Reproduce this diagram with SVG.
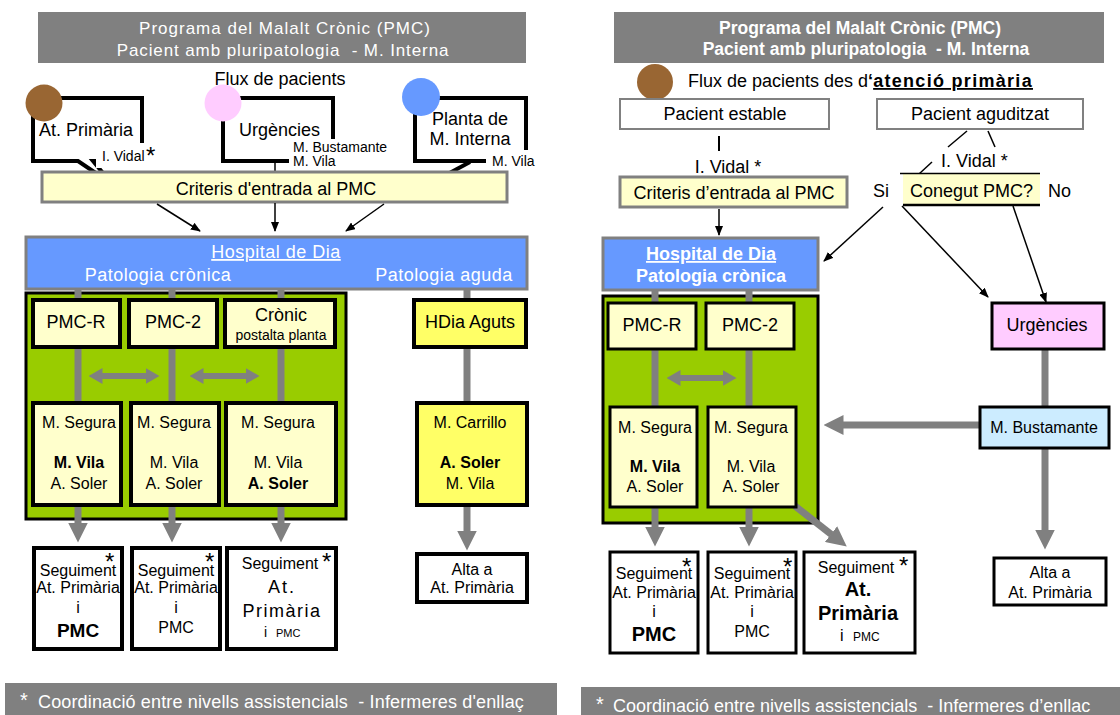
<svg xmlns="http://www.w3.org/2000/svg" width="1120" height="715" viewBox="0 0 1120 715">
<defs>
<style>
text{font-family:"Liberation Sans",Arial,sans-serif;fill:#000;font-size:16px}
.w{fill:#fff}
.c{text-anchor:middle}
.b{font-weight:bold}
.f18{font-size:18px}
.f14{font-size:14px}
.ls{letter-spacing:0.5px}
.ast{font-size:24px}
.bar{fill:#808080}
.call{fill:#fff;stroke:#000;stroke-width:4}
.cy{fill:#FFFFCC;stroke:#808080;stroke-width:3}
.hd{fill:#6699FF;stroke:#808080;stroke-width:3}
.grn{fill:#99CC00;stroke:#000;stroke-width:3}
.bx{fill:#FFFFCC;stroke:#000;stroke-width:4}
.bx3{fill:#FFFFCC;stroke:#000;stroke-width:3}
.yl{fill:#FFFF66;stroke:#000;stroke-width:4}
.wb{fill:#fff;stroke:#000;stroke-width:4}
.wb3{fill:#fff;stroke:#000;stroke-width:3}
.gb{fill:#fff;stroke:#808080;stroke-width:2}
.g{stroke:#808080;stroke-width:7;fill:none}
.k{stroke:#000;stroke-width:1.5;fill:none}
.ka{stroke:#000;stroke-width:1.5;fill:none;marker-end:url(#ah)}
.ga{stroke:#808080;stroke-width:7;fill:none;marker-end:url(#gh)}
.gd{stroke:#808080;stroke-width:6;fill:none;marker-start:url(#gh2);marker-end:url(#gh2)}
</style>
<marker id="ah" markerUnits="userSpaceOnUse" markerWidth="10" markerHeight="8" viewBox="0 0 10 8" refX="9" refY="4" orient="auto"><path d="M0,0 L10,4 L0,8 Z" fill="#000"/></marker>
<marker id="gh" markerUnits="userSpaceOnUse" markerWidth="20" markerHeight="20" viewBox="0 0 20 20" refX="0.5" refY="10" orient="auto"><path d="M0,0 L20,10 L0,20 Z" fill="#808080"/></marker>
<marker id="gh2" markerUnits="userSpaceOnUse" markerWidth="14" markerHeight="16" viewBox="0 0 14 16" refX="0.5" refY="8" orient="auto-start-reverse"><path d="M0,0 L14,8 L0,16 Z" fill="#808080"/></marker>
</defs>
<rect x="0" y="0" width="1120" height="715" fill="#fff"/>

<!-- LEFT PANEL -->
<g id="title-left">
<rect x="38" y="12" width="488" height="51" class="bar"/>
<text x="285" y="34" class="w c" style="font-size:17px;letter-spacing:1px">Programa del Malalt Crònic (PMC)</text>
<text x="283" y="56" class="w c" style="font-size:17px;letter-spacing:0.9px">Pacient amb pluripatologia &#160;- M. Interna</text>
</g>
<text id="flux-left" x="280" y="85" class="c f18">Flux de pacients</text>

<g id="hospital-left">
<rect x="26" y="237" width="501" height="52" class="hd"/>
<text x="276" y="258" class="w c f18 ls" style="text-decoration:underline">Hospital de Dia</text>
<text x="158" y="281" class="w c f18 ls">Patologia crònica</text>
<text x="444" y="281" class="w c f18 ls">Patologia aguda</text>
</g>
<g id="cronica-left">
<rect x="26" y="293" width="320" height="226" class="grn"/>
</g>

<g id="at-primaria-left">
<path class="call" d="M33,98 H142 V161 H93 L112,184 L78,161 H33 Z"/>
<rect x="96" y="143" width="68" height="25" fill="#fff"/>
<circle cx="44" cy="103" r="18.5" fill="#996633"/>
<text x="39" y="136" class="f18">At. Primària</text>
<text x="102" y="161" class="f14">I. Vidal</text>
<text x="146" y="164" class="ast">*</text>
</g>
<g id="urgencies-left">
<path class="call" d="M223,98 H333 V161 H223 Z"/>
<line x1="275" y1="161" x2="275" y2="173" class="k"/>
<rect x="289" y="139" width="103" height="32" fill="#fff"/>
<circle cx="223" cy="103" r="18.5" fill="#FFCCFF"/>
<text x="239" y="136" class="f18">Urgències</text>
<text x="293" y="152" class="f14">M. Bustamante</text>
<text x="293" y="166" class="f14">M. Vila</text>
</g>
<g id="planta-left">
<path class="call" d="M415,98 H526 V161 H415 Z"/>
<line x1="470" y1="162" x2="444" y2="176" stroke="#000" stroke-width="4"/>
<rect x="486" y="150" width="54" height="21" fill="#fff"/>
<circle cx="421" cy="97" r="19" fill="#6699FF"/>
<text x="470" y="125" class="c f18">Planta de</text>
<text x="470" y="145" class="c f18">M. Interna</text>
<text x="492" y="166" class="f14">M. Vila</text>
</g>
<g id="criteris-left">
<rect x="42" y="172" width="465" height="30" class="cy"/>
<text x="276" y="195" class="c f18">Criteris d'entrada al PMC</text>
</g>

<!-- RIGHT PANEL containers -->
<g id="title-right">
<rect x="614" y="12" width="490" height="51" class="bar"/>
<text x="860" y="34" class="w c b" style="font-size:17.5px">Programa del Malalt Crònic (PMC)</text>
<text x="866" y="55" class="w c b" style="font-size:17.5px">Pacient amb pluripatologia &#160;- M. Interna</text>
</g>
<g id="flux-right">
<circle cx="655" cy="82" r="18" fill="#996633"/>
<text x="688" y="87" class="f18">Flux de pacients des d<tspan class="b">‘</tspan><tspan class="b" style="text-decoration:underline;letter-spacing:1.3px">atenció primària</tspan></text>
</g>
<g id="hospital-right">
<rect x="603" y="238" width="215" height="52" class="hd"/>
<text x="711" y="260" class="w c b f18" style="text-decoration:underline">Hospital de Dia</text>
<text x="711" y="282" class="w c b f18">Patologia crònica</text>
</g>
<g id="cronica-right">
<rect x="603" y="296" width="215" height="227" class="grn"/>
</g>

<!-- CONNECTORS -->
<g id="connectors">
<line x1="157" y1="204" x2="200" y2="231" class="ka"/>
<line x1="275" y1="203" x2="275" y2="231" class="ka"/>
<line x1="384" y1="204" x2="346" y2="231" class="ka"/>
<line x1="78" y1="289" x2="78" y2="302" class="g"/>
<line x1="172" y1="289" x2="172" y2="302" class="g"/>
<line x1="281" y1="289" x2="281" y2="302" class="g"/>
<line x1="467" y1="289" x2="467" y2="302" class="g"/>
<line x1="78" y1="345" x2="78" y2="405" class="g"/>
<line x1="172" y1="345" x2="172" y2="405" class="g"/>
<line x1="281" y1="345" x2="281" y2="405" class="g"/>
<line x1="467" y1="345" x2="467" y2="405" class="g"/>
<line x1="102" y1="376" x2="146" y2="376" class="gd"/>
<line x1="203" y1="376" x2="246" y2="376" class="gd"/>
<line x1="78" y1="503" x2="78" y2="523" class="ga"/>
<line x1="172" y1="503" x2="172" y2="523" class="ga"/>
<line x1="281" y1="503" x2="281" y2="523" class="ga"/>
<line x1="467" y1="503" x2="467" y2="531" class="ga"/>

<line x1="719" y1="136" x2="719" y2="151" stroke="#000" stroke-width="2"/>
<line x1="719" y1="209" x2="719" y2="235" class="ka"/>
<line x1="967" y1="131" x2="948" y2="147" class="k"/>
<line x1="988" y1="131" x2="995" y2="147" class="k"/>
<line x1="932" y1="162" x2="919" y2="174" class="k"/>
<line x1="883" y1="207" x2="824" y2="261" class="ka"/>
<line x1="902" y1="206" x2="988" y2="297" class="ka"/>
<line x1="1013" y1="206" x2="1046" y2="302" class="ka"/>
<line x1="655" y1="289" x2="655" y2="305" class="g"/>
<line x1="749" y1="289" x2="749" y2="305" class="g"/>
<line x1="655" y1="347" x2="655" y2="409" class="g"/>
<line x1="749" y1="347" x2="749" y2="409" class="g"/>
<line x1="680" y1="378" x2="723" y2="378" class="gd"/>
<line x1="655" y1="505" x2="655" y2="527" class="ga"/>
<line x1="749" y1="505" x2="749" y2="527" class="ga"/>
<line x1="795" y1="506" x2="831.4" y2="534.4" class="ga"/>
<line x1="1045" y1="347" x2="1045" y2="409" class="g"/>
<line x1="980" y1="425" x2="843" y2="425" class="ga"/>
<line x1="1045" y1="446" x2="1045" y2="530" class="ga"/>
</g>

<!-- LEFT nodes -->
<g id="pmc-r-left">
<rect x="33" y="300" width="87" height="47" class="bx"/>
<text x="76" y="328" class="c f18">PMC-R</text>
</g>
<g id="pmc-2-left">
<rect x="129" y="300" width="88" height="47" class="bx"/>
<text x="173" y="328" class="c f18">PMC-2</text>
</g>
<g id="cronic-left">
<rect x="225" y="300" width="110" height="47" class="bx"/>
<text x="281" y="321" class="c f18">Crònic</text>
<text x="281" y="340" class="c f14">postalta planta</text>
</g>
<g id="hdia-aguts-left">
<rect x="414" y="300" width="112" height="47" class="yl"/>
<text x="470" y="328" class="c f18">HDia Aguts</text>
</g>
<g id="equip-1-left">
<rect x="33" y="403" width="88" height="102" class="bx"/>
<text x="79" y="428" class="c">M. Segura</text>
<text x="79" y="468" class="c b">M. Vila</text>
<text x="79" y="489" class="c">A. Soler</text>
</g>
<g id="equip-2-left">
<rect x="131" y="403" width="88" height="102" class="bx"/>
<text x="174" y="428" class="c">M. Segura</text>
<text x="174" y="468" class="c">M. Vila</text>
<text x="174" y="489" class="c">A. Soler</text>
</g>
<g id="equip-3-left">
<rect x="226" y="403" width="110" height="102" class="bx"/>
<text x="278" y="428" class="c">M. Segura</text>
<text x="278" y="468" class="c">M. Vila</text>
<text x="278" y="489" class="c b">A. Soler</text>
</g>
<g id="equip-aguts-left">
<rect x="417" y="403" width="110" height="102" class="yl"/>
<text x="470" y="428" class="c">M. Carrillo</text>
<text x="470" y="468" class="c b">A. Soler</text>
<text x="470" y="489" class="c">M. Vila</text>
</g>
<g id="seguiment-1-left">
<rect x="34" y="548" width="88" height="101" class="wb"/>
<text x="78" y="576" class="c">Seguiment</text>
<text x="105" y="570" class="ast">*</text>
<text x="78" y="593" class="c">At. Primària</text>
<text x="78" y="613" class="c">i</text>
<text x="78" y="637" class="c b" style="font-size:19px">PMC</text>
</g>
<g id="seguiment-2-left">
<rect x="132" y="548" width="88" height="101" class="wb"/>
<text x="176" y="576" class="c">Seguiment</text>
<text x="205" y="570" class="ast">*</text>
<text x="176" y="593" class="c">At. Primària</text>
<text x="176" y="613" class="c">i</text>
<text x="176" y="633" class="c">PMC</text>
</g>
<g id="seguiment-3-left">
<rect x="227" y="548" width="109" height="101" class="wb"/>
<text x="280" y="569" class="c">Seguiment</text>
<text x="322" y="570" class="ast">*</text>
<text x="282" y="593" class="c f18" style="letter-spacing:2px">At.</text>
<text x="282" y="617" class="c f18" style="letter-spacing:1.5px">Primària</text>
<text x="264" y="637" class="f14">i</text>
<text x="276" y="637" style="font-size:11px">PMC</text>
</g>
<g id="alta-left">
<rect x="417" y="554" width="110" height="48" class="wb"/>
<text x="472" y="575" class="c">Alta a</text>
<text x="472" y="593" class="c">At. Primària</text>
</g>
<g id="footer-left">
<rect x="5" y="683" width="552" height="32" class="bar"/>
<text x="20" y="707" class="w" style="font-size:20px">*</text>
<text x="38" y="708" class="w f18" style="letter-spacing:0.15px">Coordinació entre nivells assistencials &#160;- Infermeres d'enllaç</text>
</g>

<!-- RIGHT nodes -->
<g id="pacient-estable">
<rect x="620" y="99" width="209" height="30" class="gb"/>
<text x="725" y="120" class="c f18">Pacient estable</text>
</g>
<text id="vidal-estable" x="728" y="173" class="c f18">I. Vidal *</text>
<g id="criteris-right">
<rect x="620" y="177" width="227" height="30" class="cy"/>
<text x="734" y="199" class="c f18">Criteris d’entrada al PMC</text>
</g>
<g id="pacient-aguditzat">
<rect x="877" y="99" width="206" height="30" class="gb"/>
<text x="980" y="120" class="c f18">Pacient aguditzat</text>
</g>
<text id="vidal-aguditzat" x="941" y="167" class="f18">I. Vidal *</text>
<g id="conegut-pmc">
<rect x="903" y="174" width="137" height="31" fill="#FFFFCC"/>
<line x1="900" y1="173.5" x2="1040" y2="173.5" stroke="#000" stroke-width="1.5"/>
<line x1="903" y1="205" x2="1040" y2="205" stroke="#000" stroke-width="2.5"/>
<text x="910" y="197" class="f18">Conegut PMC?</text>
<text x="873" y="197" class="f18">Si</text>
<text x="1048" y="197" class="f18">No</text>
</g>
<g id="pmc-r-right">
<rect x="608" y="303" width="88" height="46" class="bx3"/>
<text x="652" y="331" class="c f18">PMC-R</text>
</g>
<g id="pmc-2-right">
<rect x="706" y="303" width="88" height="46" class="bx3"/>
<text x="750" y="331" class="c f18">PMC-2</text>
</g>
<g id="equip-1-right">
<rect x="610" y="407" width="87" height="100" class="bx3"/>
<text x="655" y="433" class="c">M. Segura</text>
<text x="655" y="472" class="c b">M. Vila</text>
<text x="655" y="492" class="c">A. Soler</text>
</g>
<g id="equip-2-right">
<rect x="708" y="407" width="88" height="100" class="bx3"/>
<text x="751" y="433" class="c">M. Segura</text>
<text x="751" y="472" class="c">M. Vila</text>
<text x="751" y="492" class="c">A. Soler</text>
</g>
<g id="urgencies-right">
<rect x="992" y="303" width="112" height="46" fill="#FFCCFF" stroke="#000" stroke-width="3"/>
<text x="1047" y="331" class="c f18">Urgències</text>
</g>
<g id="bustamante-right">
<rect x="980" y="407" width="129" height="41" fill="#CCECFF" stroke="#000" stroke-width="3"/>
<text x="1044" y="433" class="c">M. Bustamante</text>
</g>
<g id="seguiment-1-right">
<rect x="610" y="552" width="88" height="101" class="wb3"/>
<text x="654" y="579" class="c">Seguiment</text>
<text x="682" y="575" class="ast">*</text>
<text x="654" y="598" class="c">At. Primària</text>
<text x="654" y="617" class="c">i</text>
<text x="654" y="641" class="c b" style="font-size:20px">PMC</text>
</g>
<g id="seguiment-2-right">
<rect x="708" y="552" width="88" height="101" class="wb3"/>
<text x="752" y="579" class="c">Seguiment</text>
<text x="783" y="575" class="ast">*</text>
<text x="752" y="598" class="c">At. Primària</text>
<text x="752" y="617" class="c">i</text>
<text x="752" y="637" class="c">PMC</text>
</g>
<g id="seguiment-3-right">
<rect x="804" y="552" width="111" height="101" class="wb3"/>
<text x="856" y="573" class="c">Seguiment</text>
<text x="899" y="574" class="ast">*</text>
<text x="858" y="596" class="c b" style="font-size:20px">At.</text>
<text x="858" y="620" class="c b" style="font-size:20px">Primària</text>
<text x="840" y="641">i</text>
<text x="853" y="641" style="font-size:12px">PMC</text>
</g>
<g id="alta-right">
<rect x="994" y="558" width="112" height="47" class="wb3"/>
<text x="1050" y="578" class="c">Alta a</text>
<text x="1050" y="598" class="c">At. Primària</text>
</g>
<g id="footer-right">
<rect x="581" y="687" width="539" height="28" class="bar"/>
<text x="596" y="711" class="w" style="font-size:20px">*</text>
<text x="613" y="712" class="w f18">Coordinació entre nivells assistencials &#160;- Infermeres d’enllac</text>
</g>
</svg>
